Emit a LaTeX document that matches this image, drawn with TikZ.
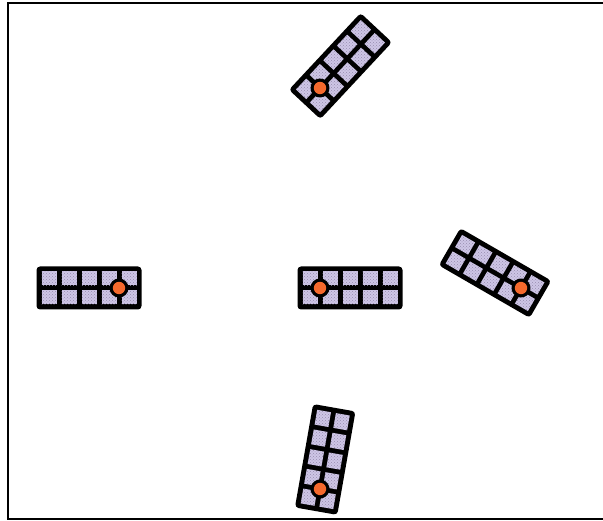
\documentclass[tikz,border=0pt]{standalone}
\usetikzlibrary{patterns}
\definecolor{cellc}{RGB}{206,198,230}
\definecolor{celldot}{RGB}{150,140,175}
\definecolor{dotc}{RGB}{245,105,45}
\tikzset{
  blockbody/.style={fill=black, rounded corners=3.5pt},
  cellbox/.style={fill=cellc},
  celltex/.style={pattern=crosshatch dots, pattern color=celldot},
  pinring/.style={fill=black},
  pindot/.style={fill=dotc},
  framel/.style={line width=2pt, draw=black}
}
\newcommand{\mkblock}[5]{%
\begin{scope}[shift={(#1,#2)}, rotate=#3]
  \fill[blockbody] (#4,-21.5) rectangle ++(105,43);
  \foreach \i in {0,...,4}{\foreach \j in {0,1}{
    \fill[cellbox] ({#4+5+\i*20},{-21.5+5+\j*19}) rectangle ++(15,14);
    \fill[celltex] ({#4+5+\i*20},{-21.5+5+\j*19}) rectangle ++(15,14);
  }}
  \fill[pinring] (0,0) circle (9.5);
  \fill[pindot] (0,0) circle (6.2);
  \coordinate (#5) at (0,0);
\end{scope}}
\begin{document}
\begin{tikzpicture}[x=1pt,y=1pt]
\useasboundingbox (0,0) rectangle (603,521);
\draw[framel] (606,518) -- (8,518) -- (8,1.5) -- (606,1.5);
\mkblock{320}{233}{0}{-22.5}{pcenter}
\mkblock{119}{233}{0}{-82.5}{pleft}
\mkblock{320}{433}{47}{-22.5}{ptop}
\mkblock{521}{233}{-30}{-82.5}{pright}
\mkblock{320}{32}{-100}{-82.5}{pbottom}
\end{tikzpicture}
\end{document}
